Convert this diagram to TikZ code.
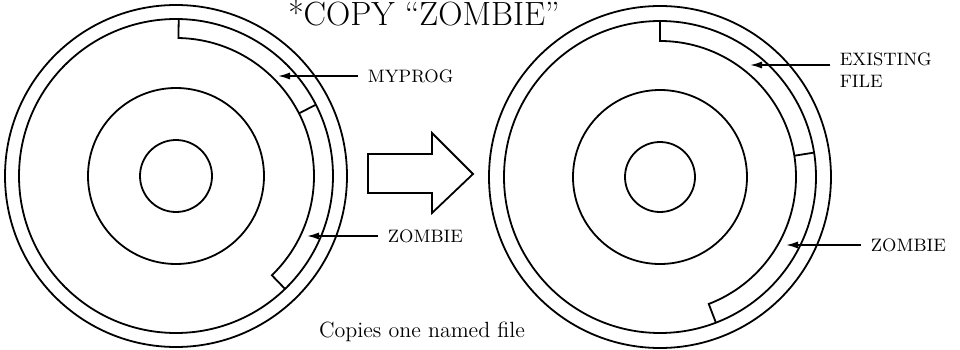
\documentclass[tikz,border=0pt]{standalone}
\usepackage{fontspec}
\usepackage{tikz}
\usetikzlibrary{arrows.meta}

\begin{document}
\begin{tikzpicture}[x=0.5pt,y=0.5pt,line width=0.9pt,
    lbl/.style={anchor=west,inner xsep=4.5pt,inner ysep=1pt,align=left,
        font=\fontsize{9}{11}\selectfont},
    ptr/.style={-{Latex[length=6pt,width=3.6pt]}}]
    \useasboundingbox (0,0) rectangle (960,349);

    \node[font=\fontsize{16.8}{19}\selectfont,anchor=base] (title) at (424,323) {*COPY ``ZOMBIE''};

    % source disk
    \coordinate (src) at (176,173);
    \begin{scope}[shift={(src)}]
        \draw (0,0) circle[radius=171];
        \draw (0,0) circle[radius=157];
        \draw (0,0) circle[radius=88];
        \draw (0,0) circle[radius=36];
        \draw (89:157) -- (89:138) arc[start angle=89,end angle=-46,radius=138] -- (-46:157);
        \draw (27:138) -- (27:157);
    \end{scope}

    % big arrow
    \draw (368,156) -- (368,195) -- (432,195) -- (432,216) -- (473,175)
        -- (432,136) -- (432,156) -- cycle;

    % destination disk
    \coordinate (dst) at (660,172);
    \begin{scope}[shift={(dst)}]
        \draw (0,0) circle[radius=171];
        \draw (0,0) circle[radius=156];
        \draw (0,0) circle[radius=87];
        \draw (0,0) circle[radius=35];
        \draw (90:156) -- (90:136) arc[start angle=90,end angle=-69,radius=136] -- (-69:156);
        \draw (9:136) -- (9:156);
    \end{scope}

    \node[lbl] (myprog) at (358,273) {MYPROG};
    \node[lbl] (zombieA) at (378,113) {ZOMBIE};
    \node[lbl] (existing) at (830,279) {EXISTING\\FILE};
    \node[lbl] (zombieB) at (861,104) {ZOMBIE};

    \coordinate (myprogtip) at (278,273);
    \coordinate (zombieAtip) at (307,113);
    \coordinate (existingtip) at (750,284);
    \coordinate (zombieBtip) at (786,104);

    \draw[ptr] (myprog) -- (myprogtip);
    \draw[ptr] (zombieA) -- (zombieAtip);
    \draw[ptr] (existing.west |- existingtip) -- (existingtip);
    \draw[ptr] (zombieB) -- (zombieBtip);

    \node[font=\fontsize{11}{13}\selectfont,anchor=base] (caption) at (422,12) {Copies one named file};
\end{tikzpicture}
\end{document}
